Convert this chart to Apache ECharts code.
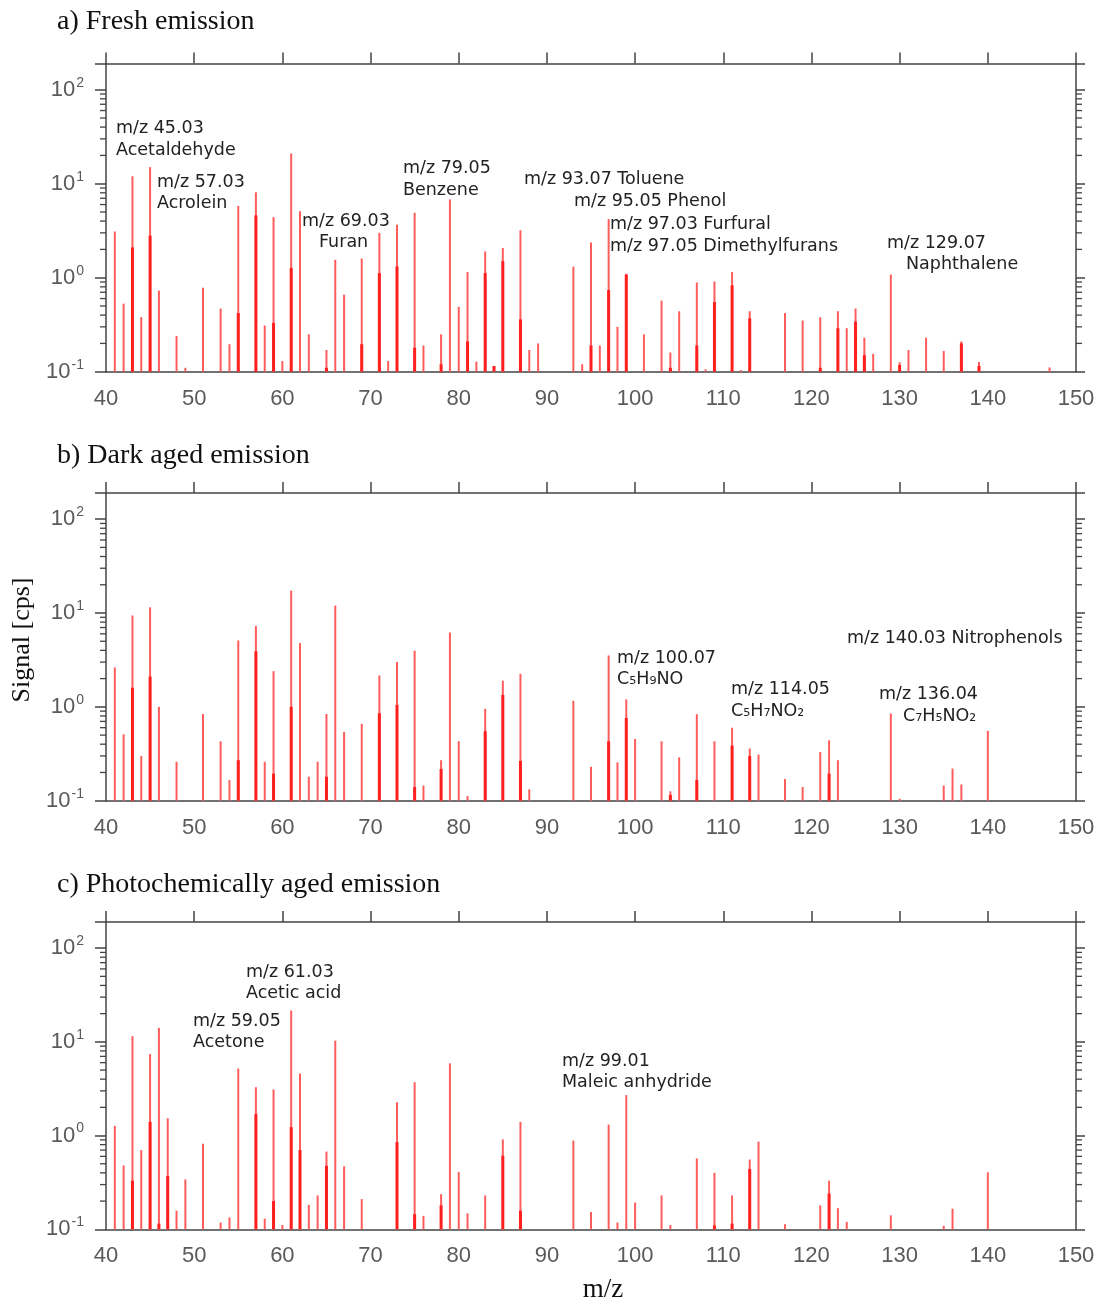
<!DOCTYPE html>
<html>
<head>
<meta charset="utf-8">
<script src="https://cdn.jsdelivr.net/npm/echarts@6/dist/echarts.min.js"></script>
<style>
  html, body { margin: 0; padding: 0; background: #ffffff; }
  #chart { width: 1099px; height: 1302px; }
</style>
</head>
<body>
<div id="chart"></div>
<script>
// ---------------- DATA ----------------
const panelTitles = ['a) Fresh emission', 'b) Dark aged emission', 'c) Photochemically aged emission'];
const xAxisName = 'm/z';
const yAxisName = 'Signal [cps]';
const xMin = 40, xMax = 150, xStep = 10;
const yMin = 0.1, yMax = 190;

// main peaks [m/z, signal]
const freshMain = [
  [41,3.1],[42,0.53],[43,12],[44,0.38],[45,15],[46,0.73],[48,0.24],[49,0.11],[51,0.78],[53,0.47],
  [54,0.196],[55,5.8],[57,8.1],[58,0.31],[59,4.4],[60,0.13],[61,21],[62,5.1],[63,0.25],[65,0.17],
  [66,1.55],[67,0.66],[69,1.6],[71,3.0],[72,0.13],[73,3.65],[75,4.9],[76,0.19],[78,0.25],[79,6.8],
  [80,0.49],[81,1.15],[82,0.128],[83,1.9],[85,2.07],[87,3.2],[88,0.17],[89,0.2],[93,1.31],[94,0.12],
  [95,2.37],[96,0.19],[97,4.2],[98,0.30],[99,1.1],[101,0.25],[103,0.57],[104,0.16],[105,0.44],[107,0.89],
  [108,0.106],[109,0.91],[111,1.15],[112,0.104],[113,0.44],[117,0.42],[119,0.35],[121,0.38],[123,0.44],
  [124,0.29],[125,0.47],[126,0.23],[127,0.155],[129,1.08],[130,0.126],[131,0.17],[133,0.23],[135,0.166],
  [137,0.21],[139,0.127],[147,0.111]
];
// second (isobaric) peaks at the same nominal mass [m/z, signal]
const freshSecond = [
  [43,2.1],[45,2.8],[55,0.42],[57,4.6],[59,0.33],[61,1.27],[65,0.11],[69,0.196],[71,1.12],[73,1.32],
  [75,0.18],[78,0.12],[81,0.21],[83,1.12],[84,0.115],[85,1.5],[87,0.36],[95,0.19],[97,0.74],[99,1.08],
  [104,0.11],[107,0.19],[109,0.55],[111,0.83],[113,0.37],[121,0.11],[123,0.29],[125,0.34],[126,0.15],
  [130,0.118],[137,0.2],[139,0.115]
];

const darkMain = [
  [41,2.63],[42,0.51],[43,9.4],[44,0.3],[45,11.5],[46,1.0],[48,0.26],[51,0.84],[53,0.43],[54,0.166],
  [55,5.1],[57,7.3],[58,0.26],[59,2.4],[61,17.3],[62,4.8],[63,0.18],[64,0.26],[65,0.84],[66,12],
  [67,0.54],[69,0.66],[71,2.16],[73,3.0],[75,3.96],[76,0.145],[78,0.27],[79,6.2],[80,0.43],[81,0.112],
  [83,0.95],[85,1.9],[87,2.25],[88,0.132],[93,1.16],[95,0.23],[97,3.53],[98,0.256],[99,1.2],[100,0.455],
  [103,0.43],[104,0.126],[105,0.29],[107,0.835],[109,0.43],[111,0.6],[113,0.36],[114,0.31],[117,0.17],
  [119,0.14],[121,0.33],[122,0.44],[123,0.27],[129,0.85],[130,0.105],[135,0.145],[136,0.22],[137,0.149],
  [140,0.555]
];
const darkSecond = [
  [43,1.6],[45,2.1],[55,0.27],[57,3.9],[59,0.194],[61,1.0],[65,0.18],[71,0.855],[73,1.05],[75,0.14],
  [78,0.218],[83,0.55],[85,1.34],[87,0.265],[97,0.43],[99,0.76],[104,0.115],[107,0.166],[111,0.386],
  [113,0.3],[122,0.194]
];

const photoMain = [
  [41,1.27],[42,0.48],[43,11.5],[44,0.70],[45,7.4],[46,14.1],[47,1.53],[48,0.158],[49,0.34],[51,0.82],
  [53,0.118],[54,0.134],[55,5.2],[57,3.28],[58,0.13],[59,3.1],[60,0.111],[61,21.6],[62,4.6],[63,0.182],
  [64,0.23],[65,0.675],[66,10.3],[67,0.47],[69,0.21],[73,2.27],[75,3.71],[76,0.139],[78,0.237],[79,5.9],
  [80,0.41],[81,0.148],[83,0.23],[85,0.91],[87,1.4],[93,0.885],[95,0.153],[97,1.31],[98,0.118],[99,2.7],
  [100,0.193],[103,0.23],[104,0.111],[107,0.57],[109,0.40],[111,0.23],[113,0.555],[114,0.86],[117,0.113],
  [121,0.18],[122,0.33],[123,0.168],[124,0.12],[129,0.141],[135,0.109],[136,0.166],[140,0.406]
];
const photoSecond = [
  [43,0.33],[45,1.4],[46,0.115],[47,0.37],[57,1.7],[59,0.2],[61,1.23],[62,0.70],[65,0.475],[73,0.85],
  [75,0.145],[78,0.18],[85,0.61],[87,0.158],[109,0.11],[111,0.115],[113,0.44],[122,0.24]
];

// annotation texts per panel
const freshNotes = ['m/z 45.03','Acetaldehyde','m/z 57.03','Acrolein','m/z 69.03','Furan','m/z 79.05','Benzene',
  'm/z 93.07 Toluene','m/z 95.05 Phenol','m/z 97.03 Furfural','m/z 97.05 Dimethylfurans','m/z 129.07','Naphthalene'];
const darkNotes = ['m/z 100.07','C₅H₉NO','m/z 114.05','C₅H₇NO₂','m/z 140.03 Nitrophenols','m/z 136.04','C₇H₅NO₂'];
const photoNotes = ['m/z 61.03','Acetic acid','m/z 59.05','Acetone','m/z 99.01','Maleic anhydride'];

// ---------------- LAYOUT ----------------
const panels = [
  { main: freshMain, second: freshSecond, notes: freshNotes, top: 63.5, height: 308.2, titleY: 22,
    notePos: [[116,128],[116,150],[157,182],[157,203],[302,221],[319,242],[403,168],[403,190],
              [524,179],[574,201],[610,224],[610,246],[887,243],[906,264]] },
  { main: darkMain, second: darkSecond, notes: darkNotes, top: 493, height: 307.7, titleY: 456,
    notePos: [[617,658],[617,679],[731,689],[731,711],[847,638],[879,694],[903,716]] },
  { main: photoMain, second: photoSecond, notes: photoNotes, top: 922, height: 307.3, titleY: 885,
    notePos: [[246,972],[246,993],[193,1021],[193,1042],[562,1061],[562,1082]] }
];
const gridLeft = 106, gridWidth = 970;
const axisColor = '#444';
const thinColor = '#ff5c5c';
const thickColor = '#ff1f1f';

// minor tick values 2..9 x 10^n within range
const minorTickValues = [];
for (let n = -1; n <= 2; n++) {
  for (let k = 2; k <= 9; k++) {
    const v = k * Math.pow(10, n);
    if (v > yMin && v < yMax) minorTickValues.push([v]);
  }
}

function yLabelFormatter(v) {
  const e = Math.log10(v);
  const r = Math.round(e);
  if (Math.abs(e - r) > 0.01) return '';
  return '10{sup|' + r + '}';
}

function peakRenderer(width, color) {
  return function (params, api) {
    const x = api.value(0), y = api.value(1);
    const topPt = api.coord([x, y]);
    const botPt = api.coord([x, yMin]);
    return {
      type: 'rect',
      shape: { x: topPt[0] - width / 2, y: topPt[1], width: width, height: botPt[1] - topPt[1] },
      style: { fill: color }
    };
  };
}

function minorTickRenderer(params, api) {
  const v = api.value(0);
  const l = api.coord([xMin, v]);
  const r = api.coord([xMax, v]);
  return {
    type: 'group',
    children: [
      { type: 'line', shape: { x1: l[0] - 6, y1: l[1], x2: l[0], y2: l[1] }, style: { stroke: axisColor, lineWidth: 1.3 } },
      { type: 'line', shape: { x1: r[0], y1: r[1], x2: r[0] + 6, y2: r[1] }, style: { stroke: axisColor, lineWidth: 1.3 } }
    ]
  };
}

const grid = [], xAxis = [], yAxis = [], series = [], graphic = [];
panels.forEach((p, i) => {
  grid.push({ left: gridLeft, width: gridWidth, top: p.top, height: p.height });
  // bottom x axis
  xAxis.push({
    type: 'value', gridIndex: i, min: xMin, max: xMax, interval: xStep, position: 'bottom',
    axisLine: { lineStyle: { color: axisColor, width: 1.5 } },
    axisTick: { show: false },
    splitLine: { show: false },
    axisLabel: { color: '#5a5a5a', fontFamily: 'Liberation Sans', fontSize: 22, margin: 16 }
  });
  // top x axis (ticks only)
  xAxis.push({
    type: 'value', gridIndex: i, min: xMin, max: xMax, interval: xStep, position: 'top',
    axisLine: { lineStyle: { color: axisColor, width: 1.5 } },
    axisTick: { show: true, inside: false, length: 11, lineStyle: { color: axisColor, width: 1.5 } },
    splitLine: { show: false },
    axisLabel: { show: false }
  });
  // left y axis
  yAxis.push({
    type: 'log', logBase: 10, gridIndex: i, min: yMin, max: yMax, position: 'left',
    axisLine: { show: true, lineStyle: { color: axisColor, width: 1.5 } },
    axisTick: { show: true, inside: false, length: 11, lineStyle: { color: axisColor, width: 1.5 } },
    splitLine: { show: false },
    minorTick: { show: false },
    axisLabel: {
      margin: 22, color: '#5a5a5a', fontFamily: 'Liberation Sans', fontSize: 22,
      formatter: yLabelFormatter,
      rich: { sup: { fontSize: 14, fontFamily: 'Liberation Sans', color: '#5a5a5a', padding: [0, 0, 14, 1] } }
    }
  });
  // right y axis (ticks only)
  yAxis.push({
    type: 'log', logBase: 10, gridIndex: i, min: yMin, max: yMax, position: 'right',
    axisLine: { show: true, lineStyle: { color: axisColor, width: 1.5 } },
    axisTick: { show: true, inside: false, length: 9, lineStyle: { color: axisColor, width: 1.5 } },
    splitLine: { show: false },
    axisLabel: { show: false }
  });
  series.push({
    type: 'custom', xAxisIndex: 2 * i, yAxisIndex: 2 * i, clip: false, z: 2,
    renderItem: peakRenderer(2, thinColor), data: p.main, silent: true
  });
  series.push({
    type: 'custom', xAxisIndex: 2 * i, yAxisIndex: 2 * i, clip: false, z: 3,
    renderItem: peakRenderer(3, thickColor), data: p.second, silent: true
  });
  series.push({
    type: 'custom', xAxisIndex: 2 * i, yAxisIndex: 2 * i, clip: false, z: 4,
    renderItem: minorTickRenderer, data: minorTickValues, silent: true
  });
  graphic.push({
    type: 'text', x: 57, y: p.titleY,
    style: { text: panelTitles[i], font: '28px "Liberation Serif"', fill: '#111', verticalAlign: 'middle', align: 'left' }
  });
  p.notes.forEach((t, j) => {
    const pos = p.notePos[j];
    graphic.push({
      type: 'text', x: pos[0], y: pos[1],
      style: { text: t, font: '17.5px "DejaVu Sans"', fill: '#222', verticalAlign: 'middle', align: 'left' }
    });
  });
});

graphic.push({
  type: 'text', x: 22, y: 640, rotation: Math.PI / 2,
  style: { text: yAxisName, font: '26px "Liberation Serif"', fill: '#111', align: 'center', verticalAlign: 'middle' }
});
graphic.push({
  type: 'text', x: 603, y: 1290,
  style: { text: xAxisName, font: '27px "Liberation Serif"', fill: '#111', align: 'center', verticalAlign: 'middle' }
});

const chart = echarts.init(document.getElementById('chart'), null, { renderer: 'canvas' });
chart.setOption({
  animation: false,
  backgroundColor: '#ffffff',
  grid: grid,
  xAxis: xAxis,
  yAxis: yAxis,
  series: series,
  graphic: graphic
});
</script>
</body>
</html>
